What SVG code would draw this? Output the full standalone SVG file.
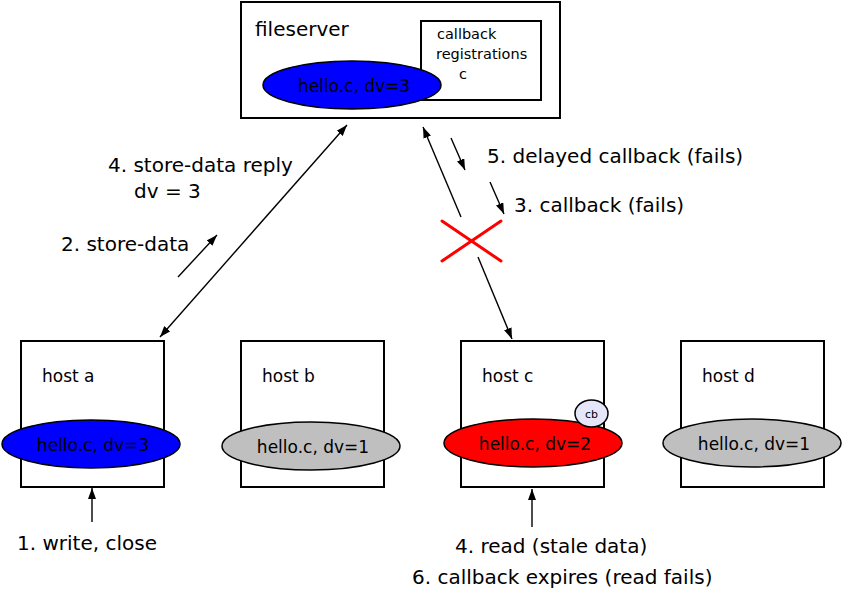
<svg xmlns="http://www.w3.org/2000/svg" width="845" height="602" viewBox="0 0 845 602">
<style>
text{font-family:"DejaVu Sans","Liberation Sans",sans-serif;fill:#000}
.box{fill:#fff;stroke:#000;stroke-width:2}
.ell{stroke:#000;stroke-width:1.5}
.lbl{font-size:20px}
.htxt{font-size:17px}
.etxt{font-size:17px;text-anchor:middle}
.arr{stroke:#000;stroke-width:1.4;fill:none}
</style>
<defs>
<marker id="ah" viewBox="0 0 11 8" refX="11" refY="4" markerWidth="11" markerHeight="8" markerUnits="userSpaceOnUse" orient="auto-start-reverse">
<path d="M0,0 L11,4 L0,8 z" fill="#000"/>
</marker>
</defs>
<rect width="845" height="602" fill="#fff"/>
<g id="fileserver">
<rect class="box" x="241" y="2" width="319" height="116"/>
<text x="255" y="36" style="font-size:20px">fileserver</text>
<rect class="box" x="421" y="21" width="120" height="79"/>
<text x="437" y="39" style="font-size:14.5px">callback</text>
<text x="436" y="59" style="font-size:14.5px">registrations</text>
<text x="459" y="79" style="font-size:14.5px">c</text>
<ellipse class="ell" cx="352" cy="85" rx="89" ry="24" fill="#0000ff"/>
<text class="etxt" x="354" y="92">hello.c, dv=3</text>
</g>
<g id="hosta">
<rect class="box" x="21" y="341" width="143" height="146"/>
<text class="htxt" x="42" y="382">host a</text>
<ellipse class="ell" cx="91" cy="444" rx="89" ry="24" fill="#0000ff"/>
<text class="etxt" x="93" y="451">hello.c, dv=3</text>
</g>
<g id="hostb">
<rect class="box" x="241" y="341" width="143" height="146"/>
<text class="htxt" x="262" y="382">host b</text>
<ellipse class="ell" cx="311" cy="446" rx="89" ry="24" fill="#bfbfbf"/>
<text class="etxt" x="313" y="453">hello.c, dv=1</text>
</g>
<g id="hostc">
<rect class="box" x="461" y="341" width="143" height="146"/>
<text class="htxt" x="482" y="382">host c</text>
<ellipse class="ell" cx="533" cy="443" rx="89" ry="24" fill="#ff0000"/>
<text class="etxt" x="535" y="450">hello.c, dv=2</text>
<ellipse class="ell" cx="591.5" cy="413.5" rx="16.5" ry="13.5" fill="#e6e6fa"/>
<text x="591.5" y="418" style="font-size:11px;text-anchor:middle">cb</text>
</g>
<g id="hostd">
<rect class="box" x="681" y="341" width="143" height="146"/>
<text class="htxt" x="702" y="382">host d</text>
<ellipse class="ell" cx="752" cy="443" rx="89" ry="24" fill="#bfbfbf"/>
<text class="etxt" x="754" y="450">hello.c, dv=1</text>
</g>
<g id="connectors">
<line class="arr" x1="160" y1="337" x2="347" y2="125" marker-start="url(#ah)" marker-end="url(#ah)"/>
<line class="arr" x1="178" y1="277" x2="217" y2="235" marker-end="url(#ah)"/>
<line class="arr" x1="92" y1="522" x2="92" y2="488" marker-end="url(#ah)"/>
<line class="arr" x1="461" y1="217" x2="423" y2="127" marker-end="url(#ah)"/>
<line class="arr" x1="451" y1="138" x2="465" y2="170" marker-end="url(#ah)"/>
<line class="arr" x1="490" y1="182" x2="504" y2="214" marker-end="url(#ah)"/>
<line class="arr" x1="478" y1="257" x2="512" y2="339" marker-end="url(#ah)"/>
<line class="arr" x1="532" y1="527" x2="532" y2="489" marker-end="url(#ah)"/>
<g stroke="#ff0000" stroke-width="3" stroke-linecap="round">
<line x1="442" y1="221" x2="501" y2="261"/>
<line x1="442" y1="261" x2="501" y2="221"/>
</g>
</g>
<g id="labels">
<text class="lbl" x="108" y="172">4. store-data reply</text>
<text class="lbl" x="134" y="198">dv = 3</text>
<text class="lbl" x="61" y="251">2. store-data</text>
<text class="lbl" x="487" y="163">5. delayed callback (fails)</text>
<text class="lbl" x="514" y="212">3. callback (fails)</text>
<text class="lbl" x="17" y="550">1. write, close</text>
<text class="lbl" x="455" y="553">4. read (stale data)</text>
<text class="lbl" x="412" y="584">6. callback expires (read fails)</text>
</g>
</svg>
